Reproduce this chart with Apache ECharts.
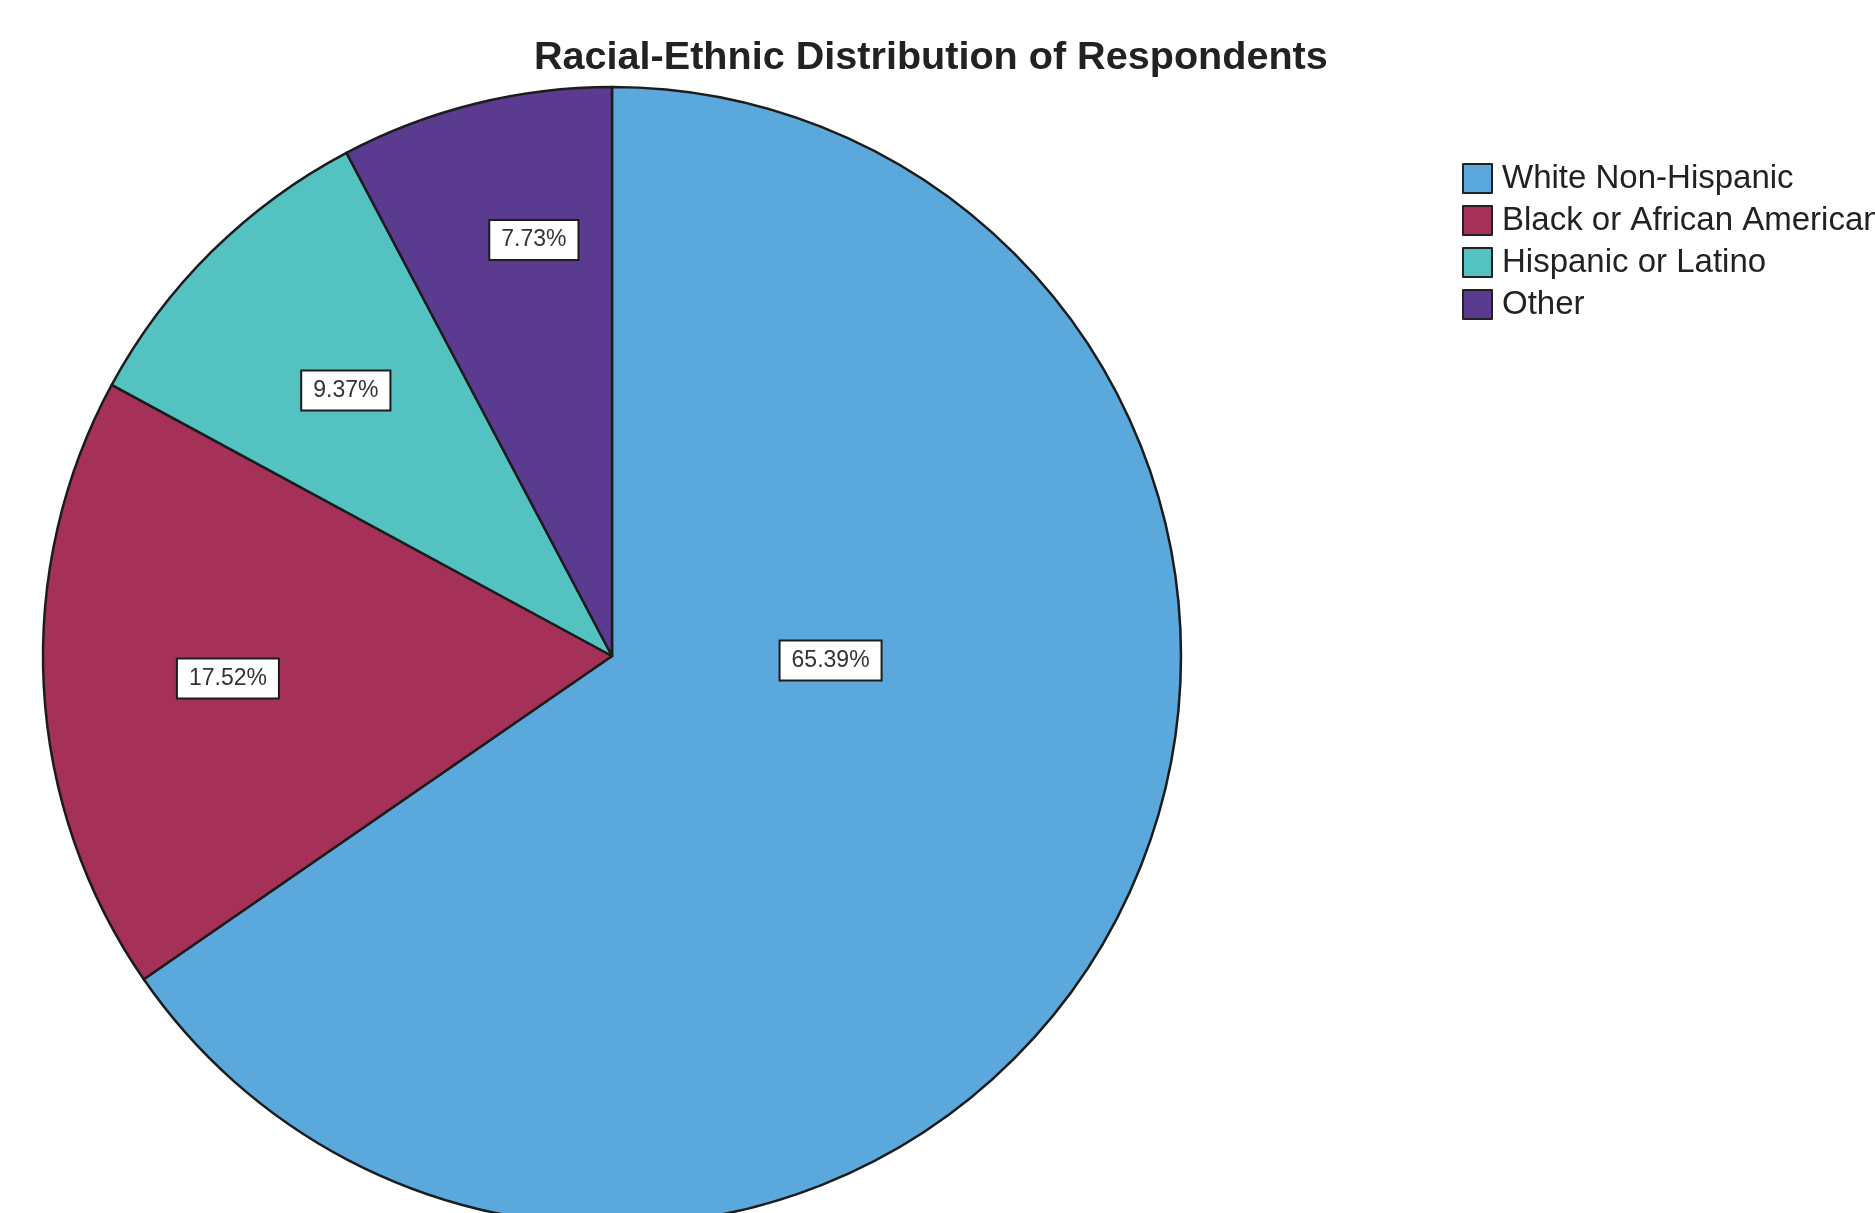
<!DOCTYPE html>
<html>
<head>
<meta charset="utf-8">
<script src="https://cdn.jsdelivr.net/npm/echarts@6/dist/echarts.min.js"></script>
<style>
html,body{margin:0;padding:0;background:#fff;}
#chart{width:1875px;height:1213px;}
</style>
</head>
<body>
<div id="chart"></div>
<script>
const titleText = 'Racial-Ethnic Distribution of Respondents';
const categories = ['White Non-Hispanic', 'Black or African American', 'Hispanic or Latino', 'Other'];
const percents = [65.39, 17.52, 9.37, 7.73];
const colors = ['#5BA9DC', '#A53158', '#55C2C2', '#5A3B8F'];
const labelOffsets = [[-36, -129], [-97, 7], [-64, -61], [-9, -137]];

const chart = echarts.init(document.getElementById('chart'), null, {renderer: 'canvas'});
const data = categories.map((c, i) => ({
  name: c,
  value: percents[i],
  itemStyle: {color: colors[i]},
  label: {offset: labelOffsets[i]}
}));

chart.setOption({
  backgroundColor: '#ffffff',
  animation: false,
  title: {
    text: titleText,
    left: 529,
    top: 33,
    textStyle: {fontFamily: 'Liberation Sans, Arial, sans-serif', fontSize: 39.6, fontWeight: 'bold', color: '#222'}
  },
  legend: {
    orient: 'vertical',
    left: 1457,
    top: 157,
    itemWidth: 29,
    itemHeight: 29,
    itemGap: 9,
    icon: 'rect',
    selectedMode: false,
    data: categories,
    itemStyle: {borderColor: '#222', borderWidth: 2},
    textStyle: {fontFamily: 'Liberation Sans, Arial, sans-serif', fontSize: 33, color: '#222', padding: [0, 0, 0, 5]}
  },
  series: [{
    type: 'pie',
    center: [612, 656],
    radius: 569,
    startAngle: 90,
    clockwise: true,
    data: data,
    itemStyle: {borderColor: '#1c1c1c', borderWidth: 2.5},
    label: {
      show: true,
      position: 'inside',
      formatter: (p) => p.value.toFixed(2) + '%',
      fontFamily: 'Liberation Sans, Arial, sans-serif',
      fontSize: 23,
      color: '#333',
      backgroundColor: '#ffffff',
      borderColor: '#1c1c1c',
      borderWidth: 2,
      padding: [8, 11, 7, 11]
    },
    labelLine: {show: false},
    emphasis: {disabled: true}
  }]
});
</script>
</body>
</html>
